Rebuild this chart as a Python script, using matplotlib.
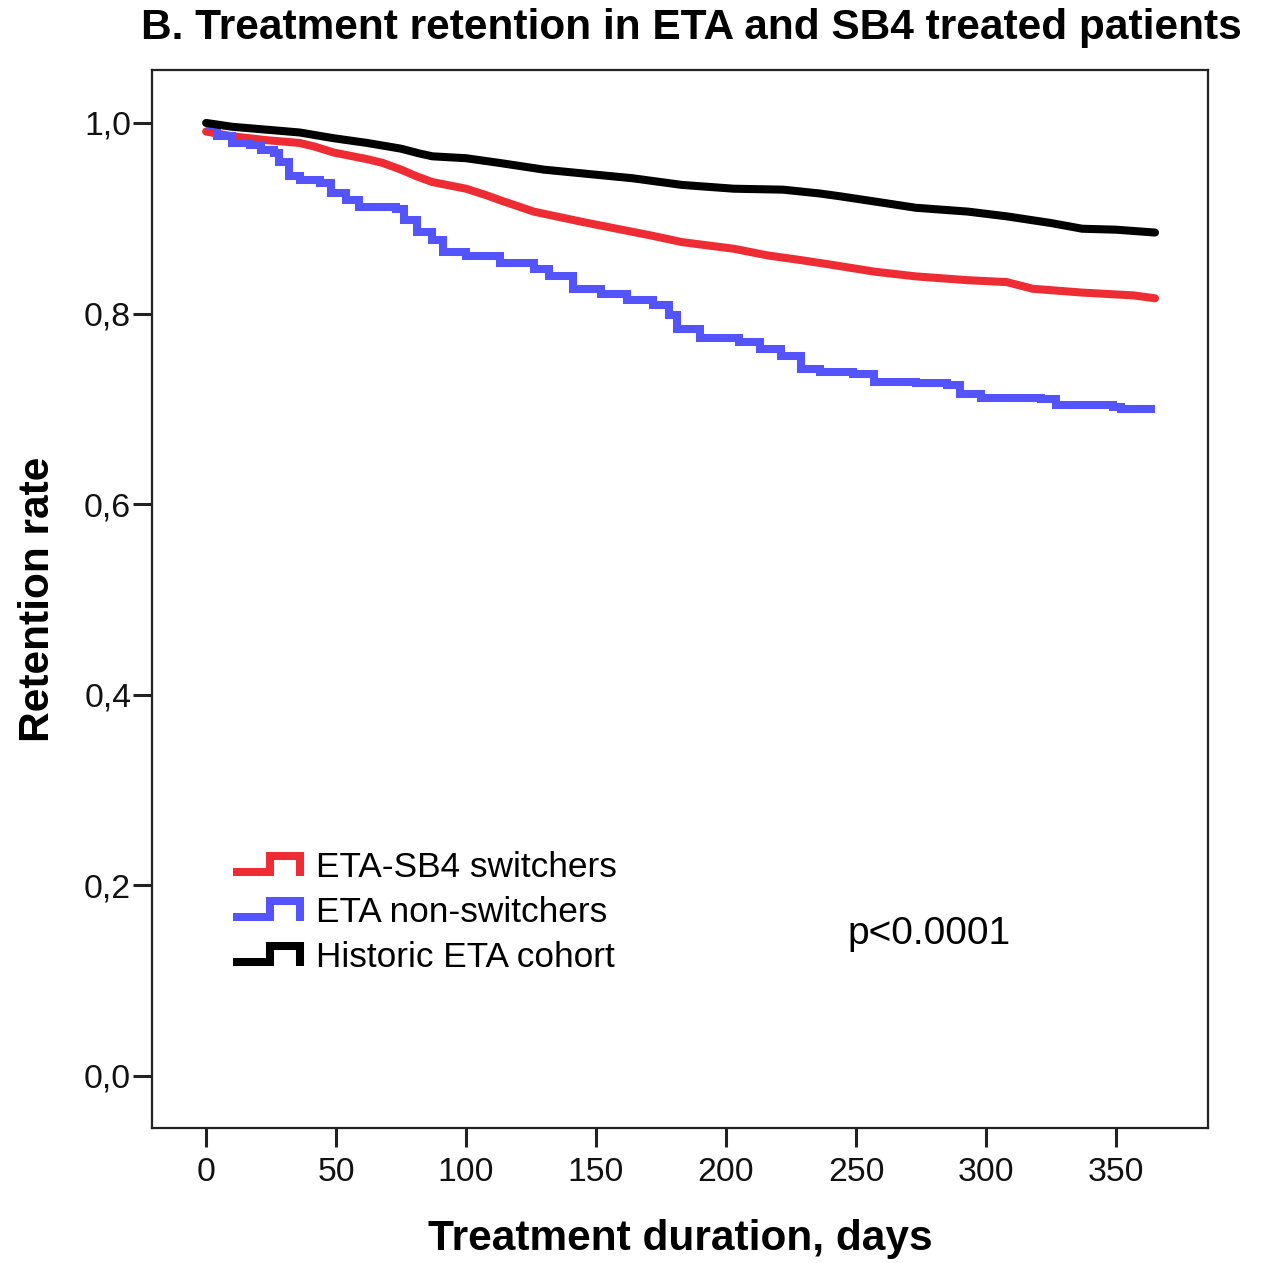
import matplotlib
matplotlib.use("Agg")
import matplotlib.pyplot as plt
from matplotlib.lines import Line2D
from matplotlib.legend_handler import HandlerBase
from matplotlib.ticker import FuncFormatter

plt.rcParams['font.family'] = ['Liberation Sans', 'DejaVu Sans']

# ---- data (days, retention) ----
switch_days = [0, 10, 23, 36, 42, 49, 62, 68, 75, 81, 87, 100, 108, 113, 126, 145, 158, 171, 183,
               203, 216, 229, 241, 257, 273, 293, 308, 318, 337, 357, 365]
switch_vals = [0.991, 0.986, 0.982, 0.979, 0.975, 0.969, 0.962, 0.958, 0.951, 0.944, 0.938, 0.931,
               0.924, 0.919, 0.907, 0.896, 0.889, 0.882, 0.875, 0.868, 0.861, 0.856, 0.851, 0.844,
               0.839, 0.835, 0.833, 0.826, 0.822, 0.819, 0.816]

nonsw_days = [0, 4, 10, 17, 21, 26, 28, 32, 36, 44, 48, 54, 59, 73, 76, 81, 87, 91, 100, 113, 126,
              132, 141, 152, 162, 172, 178, 181, 190, 205, 213, 221, 229, 236, 249, 257, 273, 285,
              290, 298, 321, 327, 349, 352, 365]
nonsw_vals = [0.998, 0.986, 0.979, 0.977, 0.972, 0.968, 0.959, 0.944, 0.940, 0.937, 0.926, 0.919,
              0.912, 0.910, 0.898, 0.886, 0.877, 0.865, 0.860, 0.853, 0.847, 0.839, 0.826, 0.821,
              0.814, 0.809, 0.798, 0.784, 0.774, 0.770, 0.763, 0.755, 0.742, 0.739, 0.737, 0.728,
              0.727, 0.725, 0.716, 0.711, 0.710, 0.704, 0.702, 0.700, 0.700]

hist_days = [0, 10, 23, 36, 49, 62, 75, 82, 87, 100, 113, 130, 145, 164, 183, 203, 222, 236, 244,
             261, 273, 293, 308, 325, 337, 350, 365]
hist_vals = [1.000, 0.996, 0.993, 0.990, 0.984, 0.979, 0.973, 0.968, 0.965, 0.963, 0.958, 0.951,
             0.947, 0.942, 0.935, 0.931, 0.930, 0.926, 0.923, 0.916, 0.911, 0.907, 0.902, 0.895,
             0.889, 0.888, 0.885]

labels = ["ETA-SB4 switchers", "ETA non-switchers", "Historic ETA cohort"]
colors = ["#EE2C34", "#5454FF", "#000000"]
x_ticks = [0, 50, 100, 150, 200, 250, 300, 350]
y_ticks = [0.0, 0.2, 0.4, 0.6, 0.8, 1.0]

LW = 5.8


class StepHandler(HandlerBase):
    def create_artists(self, legend, orig_handle, xdescent, ydescent,
                       width, height, fontsize, trans):
        xs = [0.0, 0.55, 0.55, 1.0, 1.0]
        ys = [0.2, 0.2, 0.85, 0.85, 0.05]
        line = Line2D([-xdescent + x * width for x in xs],
                      [-ydescent + y * height for y in ys],
                      color=orig_handle.get_color(), lw=LW,
                      solid_joinstyle='miter', solid_capstyle='butt')
        line.set_transform(trans)
        return [line]


fig = plt.figure(figsize=(12.68, 12.63), dpi=100)
ax = fig.add_axes([0.1199, 0.1069, 0.8328, 0.8377])

h1, = ax.plot(switch_days, switch_vals, color=colors[0], lw=LW, label=labels[0],
              solid_joinstyle='round', solid_capstyle='round')
h2, = ax.plot(nonsw_days, nonsw_vals, drawstyle='steps-post', color=colors[1], lw=LW,
              label=labels[1], solid_joinstyle='miter', solid_capstyle='butt')
h3, = ax.plot(hist_days, hist_vals, color=colors[2], lw=LW, label=labels[2],
              solid_joinstyle='round', solid_capstyle='round')
handles = [h1, h2, h3]

ax.set_xlim(-20.8, 385.4)
ax.set_ylim(-0.0546, 1.0556)
ax.set_xticks(x_ticks)
ax.set_yticks(y_ticks)
ax.yaxis.set_major_formatter(FuncFormatter(lambda v, p: f"{v:.1f}".replace('.', ',')))

for s in ax.spines.values():
    s.set_linewidth(1.6)
    s.set_color('#222222')
ax.tick_params(axis='both', direction='out', length=14, width=2.2,
               labelsize=24.3, color='#222222', labelcolor='#111111')
ax.tick_params(axis='x', pad=7)
ax.tick_params(axis='y', pad=1)

ax.set_xlabel("Treatment duration, days", fontsize=30.5, fontweight='bold', labelpad=22)
ax.set_ylabel("Retention rate", fontsize=30.5, fontweight='bold', labelpad=19)
fig.text(0.5453, 0.978, "B. Treatment retention in ETA and SB4 treated patients",
         ha='center', va='center', fontsize=30.5, fontweight='bold')

ax.legend(handles=handles, labels=labels, handler_map={Line2D: StepHandler()},
          loc='upper left', bbox_to_anchor=(0.0767, 0.262), frameon=False,
          fontsize=25.4, handlelength=1.9, handletextpad=0.45, labelspacing=0.34,
          borderpad=0, borderaxespad=0)

ax.text(0.659, 0.183, "p<0.0001", transform=ax.transAxes, fontsize=28,
        ha='left', va='center')

fig.savefig("out.png", dpi=100)
